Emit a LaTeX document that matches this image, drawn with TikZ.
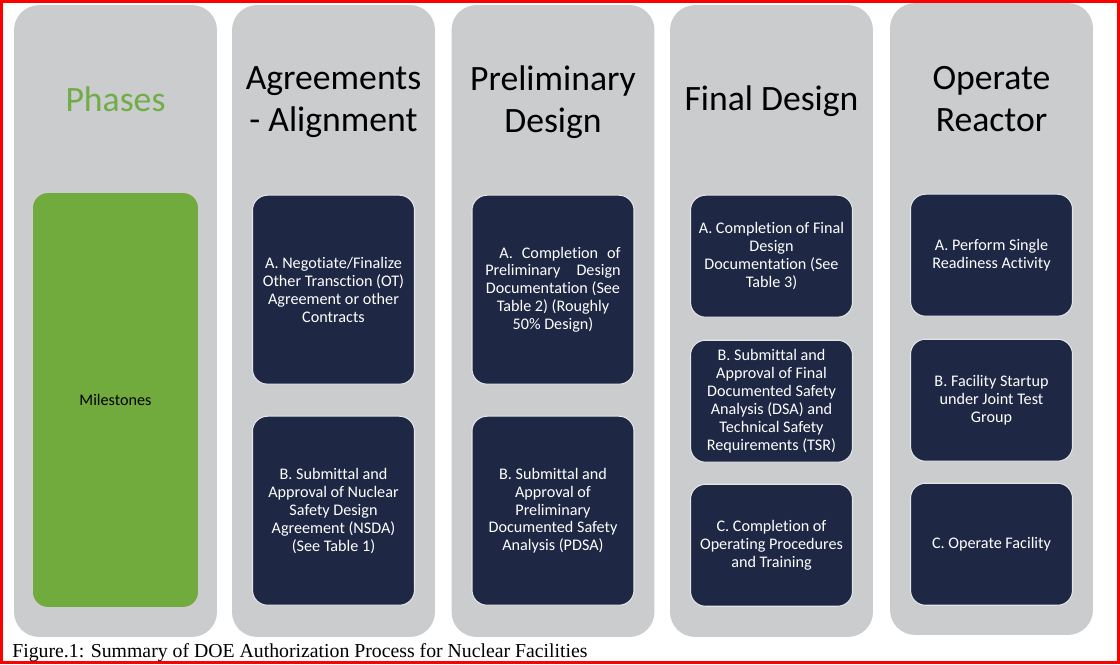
\documentclass[tikz,border=0pt]{standalone}
\usepackage{fontspec}
\setmainfont{Carlito}[Ligatures=CommonOff]
\newfontfamily\capfont{Liberation Serif}
\usepackage{xcolor}
\usetikzlibrary{positioning}

\definecolor{colgray}{HTML}{CBCCCE}
\definecolor{mileblue}{HTML}{1E2844}
\definecolor{milegreen}{HTML}{72AB3D}
\definecolor{headgreen}{HTML}{70AD47}
\definecolor{mileline}{HTML}{E4E5E8}

\begin{document}
\begin{tikzpicture}[x=0.02cm,y=-0.02cm]
	  \tikzset{phase/.style={fill=colgray, rounded corners=0.5cm, minimum width=4.06cm, minimum height=12.64cm, inner sep=0pt},
	  	head/.style={align=center, font=\fontsize{20.3}{23.6}\selectfont},
	  	mile/.style={draw=mileline, line width=0.6pt, fill=mileblue, text=white, rounded corners=0.3cm, align=center,
	  		minimum width=3.24cm, inner sep=0pt, font=\fontsize{9.2}{10.2}\selectfont},
	  	tallmile/.style={mile, minimum height=3.78cm},
	  	shortmile/.style={mile, minimum height=2.44cm},
	  }
	  \useasboundingbox (0,0) rectangle (1120,664);
	  \draw[red, line width=0.06cm] (1.5,1.5) rectangle (1118.5,662.5);
	  
	  %% phase columns
	  \node [phase] (phases) at (115.5,321) {};
	  \node [phase] (agree) at (333.5,321) {};
	  \node [phase] (prelim) at (553,321) {};
	  \node [phase] (final) at (771.5,321) {};
	  \node [phase] (operate) at (991.5,319) {};
	  
	  \node [head, text=headgreen] (hphases) at (phases.north |- 0,99) {Phases};
	  \node [head] (hagree) at (agree.north |- 0,102) {Agreements\\- Alignment};
	  \node [head] (hprelim) at (prelim.north |- 0,102) {Preliminary\\Design};
	  \node [head] (hfinal) at (final.north |- 0,101) {Final Design};
	  \node [head] (hoperate) at (operate.north |- 0,99) {Operate\\Reactor};
	  
	  %% milestones
	  \node [fill=milegreen, rounded corners=0.3cm, minimum width=3.3cm, minimum height=8.28cm, inner sep=0pt,
	  	font=\fontsize{9.2}{10.2}\selectfont, below=3.76cm of phases.north] (miles) {Milestones};
	  
	  \node [tallmile, below=3.8cm of agree.north] (agreeA) {A. Negotiate/Finalize\\Other Transction (OT)\\Agreement or other\\Contracts};
	  \node [tallmile, below=0.62cm of agreeA] (agreeB) {B. Submittal and\\Approval of Nuclear\\Safety Design\\Agreement (NSDA)\\(See Table 1)};
	  
	  \node [tallmile, below=3.8cm of prelim.north] (prelimA) {\makebox[77pt][s]{\hspace{8pt}A.\ Completion of}\\\makebox[77pt][s]{Preliminary Design}\\Documentation (See\\Table 2) (Roughly\\50\% Design)};
	  \node [tallmile, below=0.62cm of prelimA] (prelimB) {B. Submittal and\\Approval of\\Preliminary\\Documented Safety\\Analysis (PDSA)};
	  
	  \node [shortmile, below=3.8cm of final.north] (finalA) {A. Completion of Final\\Design\\Documentation (See\\Table 3)};
	  \node [shortmile, below=0.44cm of finalA] (finalB) {B. Submittal and\\Approval of Final\\Documented Safety\\Analysis (DSA) and\\Technical Safety\\Requirements (TSR)};
	  \node [shortmile, below=0.42cm of finalB] (finalC) {C. Completion of\\Operating Procedures\\and Training};
	  
	  \node [shortmile, below=3.82cm of operate.north] (operateA) {A. Perform Single\\Readiness Activity};
	  \node [shortmile, below=0.44cm of operateA] (operateB) {B. Facility Startup\\under Joint Test\\Group};
	  \node [shortmile, below=0.42cm of operateB] (operateC) {C. Operate Facility};
	  
	  %% caption
	  \node [anchor=base west, inner sep=0pt, font=\capfont\fontsize{11.25}{13}\selectfont] (caption) at (12,657)
	  	{Figure.1: Summary of DOE Authorization Process for Nuclear Facilities};
\end{tikzpicture}
\end{document}
